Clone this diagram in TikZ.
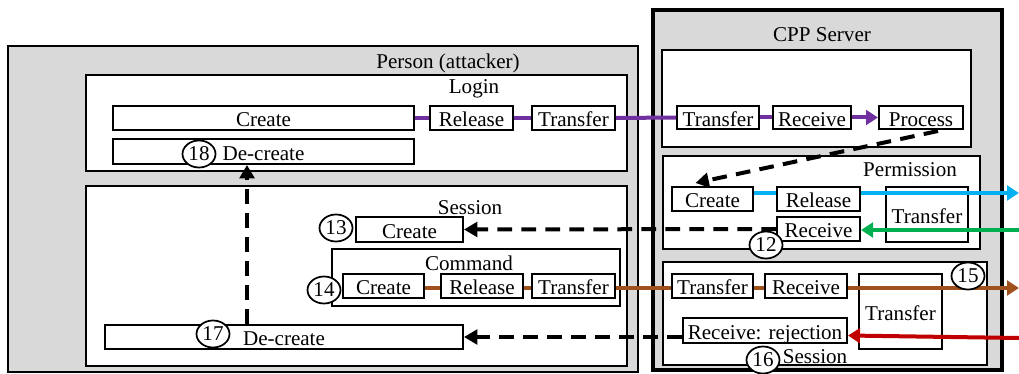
\documentclass[tikz,border=0pt]{standalone}
\usepackage{fontspec}
\setmainfont{Liberation Serif}
\usetikzlibrary{arrows.meta,calc,shapes.geometric}
\definecolor{lgray}{HTML}{D9D9D9}
\definecolor{cpurple}{HTML}{7030A0}
\definecolor{cblue}{HTML}{00B0F0}
\definecolor{cgreen}{HTML}{00B050}
\definecolor{cbrown}{HTML}{A0501A}
\definecolor{cred}{HTML}{C00000}
\tikzset{
  sz/.style 2 args={minimum width=#1*0.75pt, minimum height=#2*0.75pt},
  cont/.style={draw, line width=1.5pt, inner sep=0pt, fill=white},
  box/.style={draw, line width=1.5pt, inner sep=0pt, fill=white, text height=14.5pt, text depth=1.5pt},
  ttl/.style={inner sep=0pt},
  num/.style={draw, ellipse, fill=white, line width=1.3pt, inner sep=0pt, minimum width=33*0.75pt, minimum height=27*0.75pt},
  flow/.style={line width=3pt},
  tip/.style={-{Triangle[length=9pt,width=11pt]}},
  dsh/.style={line width=3pt, dash pattern=on 11pt off 7pt, -{Triangle[length=10pt,width=11pt]}},
}
\begin{document}
\begin{tikzpicture}[x=0.75pt,y=-0.75pt,font=\fontsize{15.8pt}{18pt}\selectfont]
\useasboundingbox (0,0) rectangle (1019,374);
% containers
\node[cont, fill=lgray, sz={630}{326}] (person) at (323,209) {};
\node[cont, fill=lgray, line width=3.5pt, sz={349}{360}] (server) at (827.5,190) {};
\node[cont, sz={541}{96}] (login) at (356.5,123) {};
\node[cont, sz={541}{180}] (psession) at (356.5,276) {};
\node[cont, sz={288}{57}] (command) at (476,277.5) {};
\node[cont, sz={309}{97}] (slogin) at (816.5,98.5) {};
\node[cont, sz={317}{93}] (perm) at (821.5,202.5) {};
\node[cont, sz={324}{103}] (ssession) at (825,313.5) {};
% titles
\node[ttl] (tperson) at (448,63) {Person (attacker)};
\node[ttl] (tlogin) at (474,89) {Login};
\node[ttl] (tpsession) at (470,208) {Session};
\node[ttl] (tcommand) at (469,263) {Command};
\node[ttl] (tserver) at (822,35) {CPP Server};
\node[ttl] (tperm) at (910,170) {Permission};
\node[ttl] (tssession) at (815,357) {Session};
% person login
\node[box, sz={301}{24}] (lcreate) at (263.5,118) {Create};
\node[box, sz={301}{25}] (ldecreate) at (263.5,151.5) {De-create};
\node[box, sz={83}{24}] (lrelease) at (471.5,118) {Release};
\node[box, sz={83}{24}] (ltransfer) at (573.5,118) {Transfer};
% server login
\node[box, sz={82}{23}] (sltransfer) at (718,117.5) {Transfer};
\node[box, sz={78}{23}] (slreceive) at (812,117.5) {Receive};
\node[box, sz={84}{23}] (process) at (921,117.5) {Process};
% permission
\node[box, sz={81}{24}] (pcreate) at (712.5,199) {Create};
\node[box, sz={83}{24}] (prelease) at (818.5,199) {Release};
\node[box, sz={82}{55}] (ptransfer) at (927,214.5) {Transfer};
\node[box, sz={83}{24}] (preceive) at (818.5,229) {Receive};
% person session
\node[box, sz={107}{25}] (screate) at (409.5,229.5) {Create};
\node[box, sz={81}{24}] (ccreate) at (383.5,286) {Create};
\node[box, sz={82}{24}] (crelease) at (482,286) {Release};
\node[box, sz={83}{24}] (ctransfer) at (573.5,286) {Transfer};
\node[box, sz={358}{24}] (decreate) at (284,337) {De-create};
% server session
\node[box, sz={81}{24}] (sstransfer) at (712.5,286) {Transfer};
\node[box, sz={82}{24}] (ssreceive) at (806,286) {Receive};
\node[box, sz={83}{75}] (sstbig) at (900.5,311.5) {Transfer};
\node[box, sz={164}{25}] (rejection) at (765,330.5) {Receive: rejection};
% free ends
\coordinate (bl) at (1019,193);
\coordinate (gr) at (1019,230);
\coordinate (br) at (1019,288);
\coordinate (rd) at (1019,338);
\coordinate (vx) at (247,0);
% purple
\draw[flow, cpurple] (lcreate.east) -- (lrelease.west);
\draw[flow, cpurple] (lrelease.east) -- (ltransfer.west);
\draw[flow, cpurple] (ltransfer.east) -- (sltransfer.west);
\draw[flow, cpurple] (sltransfer.east) -- (slreceive.west);
\draw[flow, cpurple, tip] (slreceive.east) -- (process.west);
% blue
\draw[flow, cblue] (pcreate.east |- bl) -- (prelease.west |- bl);
\draw[flow, cblue, tip] (prelease.east |- bl) -- (bl);
% green
\draw[flow, cgreen, tip] (gr) -- (preceive.east |- gr);
% brown
\draw[flow, cbrown] (ccreate.east |- br) -- (crelease.west |- br);
\draw[flow, cbrown] (crelease.east |- br) -- (ctransfer.west |- br);
\draw[flow, cbrown] (ctransfer.east |- br) -- (sstransfer.west |- br);
\draw[flow, cbrown] (sstransfer.east |- br) -- (ssreceive.west |- br);
\draw[flow, cbrown, tip] (ssreceive.east |- br) -- (br);
% red
\draw[flow, cred, tip] (rd) -- ($(rejection.east)+(0,5)$);
% dashed
\draw[dsh] ($(process.south)+(17,1)$) -- ($(pcreate.north)+(-17,-3)$);
\draw[dsh] (preceive.west) -- (screate.east);
\draw[dsh] (rejection.west |- decreate.east) -- (decreate.east);
\draw[dsh] (decreate.north -| vx) -- (ldecreate.south -| vx);
% numbers
\node[num] (n18) at (199,154) {18};
\node[num] (n13) at (336,228) {13};
\node[num] (n14) at (324,290) {14};
\node[num] (n17) at (213,334) {17};
\node[num] (n12) at (766,245) {12};
\node[num] (n15) at (968,276) {15};
\node[num] (n16) at (763,360) {16};
\end{tikzpicture}
\end{document}
